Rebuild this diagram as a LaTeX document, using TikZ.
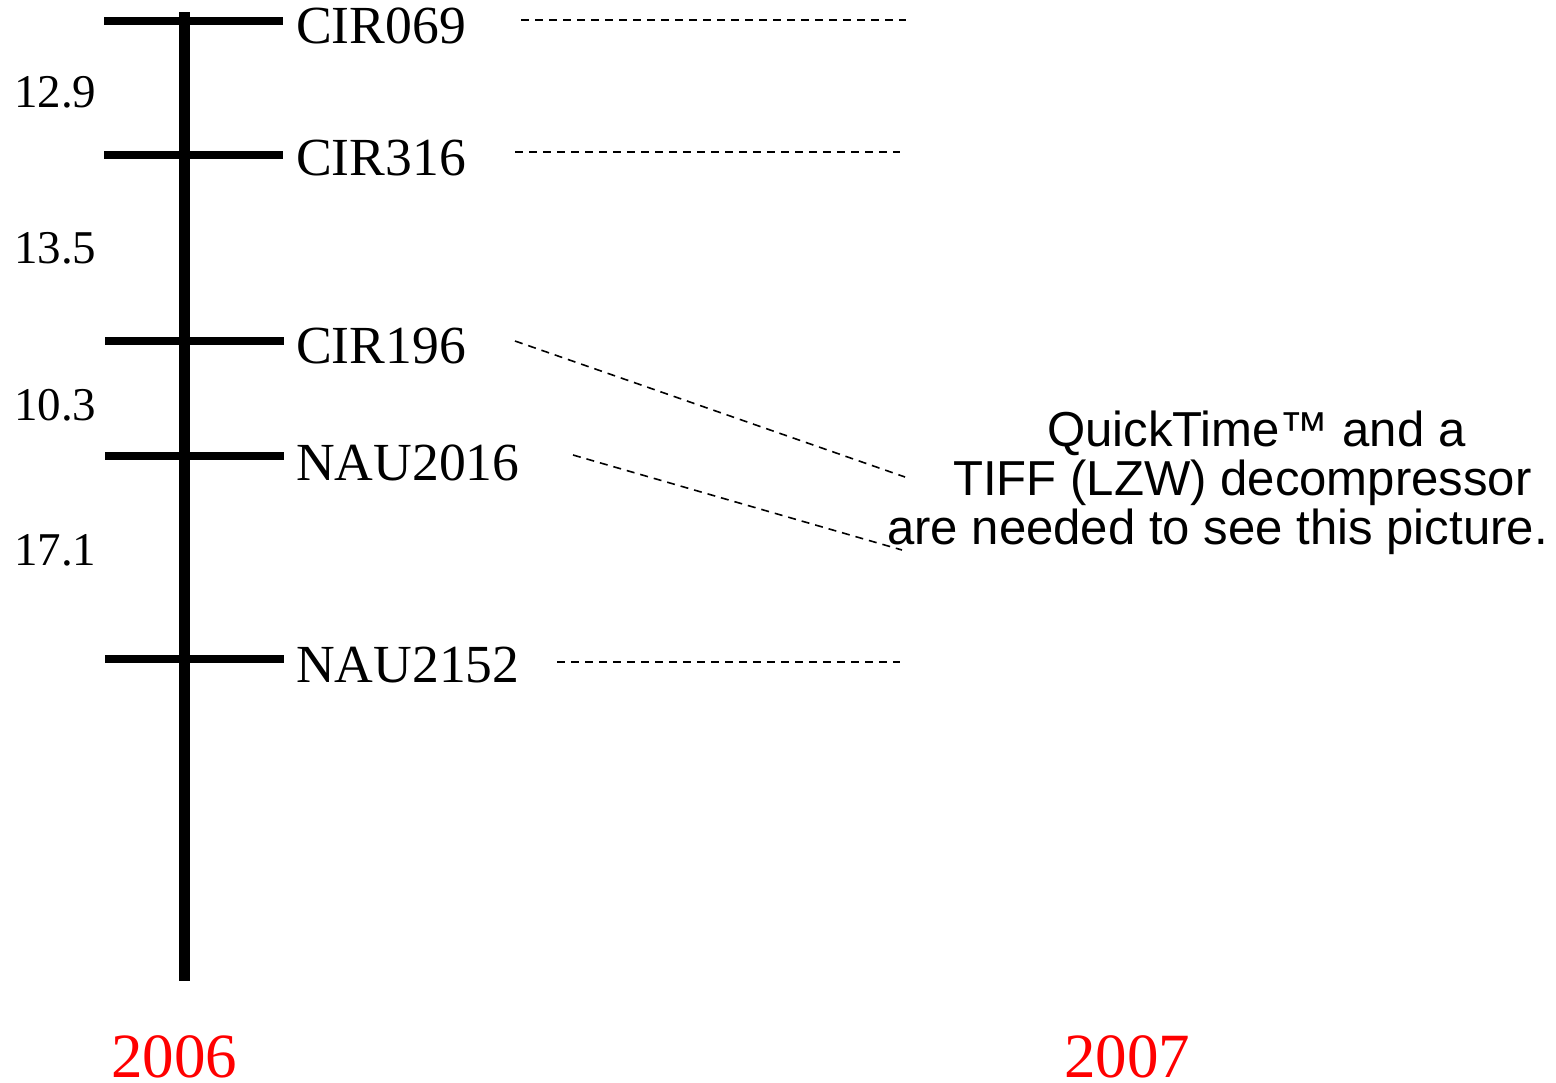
\documentclass[tikz,border=0pt]{standalone}
\usepackage{fontspec}
\setmainfont{Liberation Serif}
\newfontfamily\qtfont{Liberation Sans}
\begin{document}
\begin{tikzpicture}[x=1pt,y=-1pt,
  axisline/.style={line width=11pt},
  tickline/.style={line width=8pt},
  link/.style={line width=1.6pt,dash pattern=on 8pt off 6pt},
  marker/.style={anchor=base west,inner sep=0pt,font=\fontsize{53.6}{53.6}\selectfont},
  dist/.style={anchor=base west,inner sep=0pt,font=\fontsize{47}{47}\selectfont},
  year/.style={anchor=base west,inner sep=0pt,text depth=0pt,text=red,font=\fontsize{63}{63}\selectfont},
  qt/.style={anchor=base west,inner sep=0pt,font=\qtfont\fontsize{49.1}{49.1}\selectfont}]
\useasboundingbox (0,0) rectangle (1556,1082);
\fill[white] (0,0) rectangle (1556,1082);

% chromosome axis
\coordinate (top) at (184,12);
\coordinate (bot) at (184,981);
\draw[axisline] (top) -- (bot);

% ticks
\coordinate (t1l) at (104,21);  \coordinate (t1r) at (283,21);
\coordinate (t2l) at (104,155); \coordinate (t2r) at (283,155);
\coordinate (t3l) at (105,341); \coordinate (t3r) at (284,341);
\coordinate (t4l) at (105,456); \coordinate (t4r) at (284,456);
\coordinate (t5l) at (105,659); \coordinate (t5r) at (284,659);
\foreach \i in {1,...,5} \draw[tickline] (t\i l) -- (t\i r);

% marker labels
\node[marker] (m1) at (296,43)  {CIR069};
\node[marker] (m2) at (296,175) {CIR316};
\node[marker] (m3) at (296,363) {CIR196};
\node[marker] (m4) at (296,480) {NAU2016};
\node[marker] (m5) at (296,682) {NAU2152};

% distances
\node[dist] (d1) at (14,107) {12.9};
\node[dist] (d2) at (14,263) {13.5};
\node[dist] (d3) at (14,420) {10.3};
\node[dist] (d4) at (14,565) {17.1};

% years
\node[year] (y1) at (111,1077) {2006};
\node[year] (y2) at (1064,1077) {2007};

% placeholder text
\node[qt] (q1) at (1047,446) {QuickTime™ and a};
\node[qt] (q2) at (953,495) {TIFF (LZW) decompressor};
\node[qt] (q3) at (887,544) {are needed to see this picture.};

% dashed links
\coordinate (a1) at (521,20);  \coordinate (b1) at (906,20);
\coordinate (a2) at (515,152); \coordinate (b2) at (900,152);
\coordinate (a3) at (515,341); \coordinate (b3) at (905,477);
\coordinate (a4) at (573,455); \coordinate (b4) at (902,550);
\coordinate (a5) at (557,662); \coordinate (b5) at (900,662);
\foreach \i in {1,...,5} \draw[link] (a\i) -- (b\i);
\end{tikzpicture}
\end{document}
